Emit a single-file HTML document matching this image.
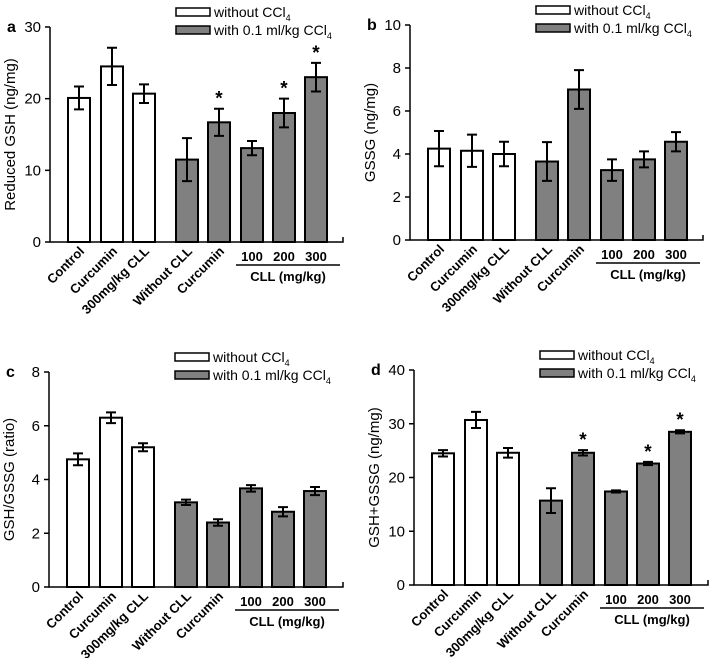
<!DOCTYPE html>
<html><head><meta charset="utf-8"><style>
body{margin:0;background:#fff;width:710px;height:658px;overflow:hidden}
svg{display:block;font-family:"Liberation Sans",sans-serif}
</style></head><body>
<svg id="fig" width="710" height="658" viewBox="0 0 710 658"></svg>
<script>
const categories=["Control","Curcumin","300mg/kg CLL","Without CLL","Curcumin","100","200","300"];
const aValues=[20.1,24.5,20.7,11.5,16.7,13.1,18,23];
const aErrors=[1.6,2.6,1.3,3,1.9,1,2,2];
const bValues=[4.25,4.15,4.0,3.65,7.0,3.25,3.75,4.57];
const bErrors=[0.82,0.75,0.57,0.9,0.9,0.5,0.37,0.45];
const cValues=[4.75,6.3,5.2,3.15,2.4,3.67,2.8,3.57];
const cErrors=[0.22,0.2,0.15,0.1,0.12,0.12,0.17,0.15];
const dValues=[24.5,30.7,24.6,15.7,24.6,17.4,22.6,28.5];
const dErrors=[0.6,1.5,0.9,2.3,0.5,0.2,0.3,0.3];
const aTicks=[0,10,20,30];
const bTicks=[0,2,4,6,8,10];
const cTicks=[0,2,4,6,8];
const dTicks=[0,10,20,30,40];
const aStars=[4,6,7];
const dStars=[4,6,7];
const NS="http://www.w3.org/2000/svg";
const svg=document.getElementById('fig');
const offs=[29,62,94,137,169,202,234,266];
function mk(tag,at,parent,txt){const e=document.createElementNS(NS,tag);for(const k in at)e.setAttribute(k,at[k]);if(txt!==undefined)e.textContent=txt;(parent||svg).appendChild(e);return e;}
function panel(id,ax,y0,ytop,xend,vals,errs,ticks,ylabel,stars){
  const g=mk('g',{});
  
  
  const max=ticks[ticks.length-1];
  const Y=v=>y0-(v/max)*(y0-ytop);
  const X=i=>ax+offs[i];
  vals.forEach((v,i)=>{
    const r=mk('rect',{x:X(i)-11,y:Y(v),width:22,height:y0-Y(v),fill:i<3?'#fff':'#808080',stroke:'#000','stroke-width':2},g);
    
    
    const e=errs[i],t=Y(v+e),b=Y(v-e);
    const eb=mk('path',{d:`M${X(i)},${t}V${b}M${X(i)-5},${t}H${X(i)+5}M${X(i)-5},${b}H${X(i)+5}`,stroke:'#000','stroke-width':2,fill:'none'},g);
    
    
  });
  (stars||[]).forEach(i=>{
    const s=mk('text',{x:X(i),y:Y(vals[i]+errs[i])-4,'text-anchor':'middle','font-size':19,'font-weight':'bold'},g,'*');
    
    
  });
  const axl=mk('path',{d:`M${ax},${ytop}V${y0}H${xend}V${y0-5}`,stroke:'#000','stroke-width':1.5,fill:'none'},g);
  
  
  ticks.forEach(t=>{
    mk('line',{x1:ax-5,x2:ax,y1:Y(t),y2:Y(t),stroke:'#000','stroke-width':1.5},g);
    const tl=mk('text',{x:ax-9,y:Y(t)+5,'text-anchor':'end','font-size':15},g,t);
    
    
  });
  const yl=mk('text',{transform:`translate(${ax-35},${(y0+ytop)/2}) rotate(-90)`,'text-anchor':'middle','font-size':15},g,ylabel);
  
  
  const pl=mk('text',{x:ax-43,y:ytop+5,'font-size':16,'font-weight':'bold'},g,id);
  
  
  categories.forEach((c,i)=>{
    let t;
    if(i<5){t=mk('text',{transform:`translate(${X(i)+6},${y0+10}) rotate(-45)`,'text-anchor':'end','font-size':13,'font-weight':'bold'},g,c);}
    else{t=mk('text',{x:X(i),y:y0+19,'text-anchor':'middle','font-size':13,'font-weight':'bold'},g,c);}
    
    
  });
  mk('line',{x1:ax+186,x2:ax+290,y1:y0+23,y2:y0+23,stroke:'#000','stroke-width':1.5},g);
  const cl=mk('text',{x:ax+238,y:y0+39,'text-anchor':'middle','font-size':13,'font-weight':'bold'},g,'CLL (mg/kg)');
  
  
  const lg=mk('g',{},g);
  
  
  mk('rect',{x:ax+126,y:ytop-19,width:34,height:8,fill:'#fff',stroke:'#000','stroke-width':1.5},lg);
  mk('rect',{x:ax+126,y:ytop-1,width:34,height:8,fill:'#808080',stroke:'#000','stroke-width':1.5},lg);
  const t1=mk('text',{x:ax+164,y:ytop-10,'font-size':14},lg);t1.innerHTML='without CCl<tspan font-size="9" dy="4">4</tspan>';
  const t2=mk('text',{x:ax+164,y:ytop+8,'font-size':14},lg);t2.innerHTML='with 0.1 ml/kg CCl<tspan font-size="9" dy="4">4</tspan>';
}
panel('a',50,242,27,343,aValues,aErrors,aTicks,'Reduced GSH (ng/mg)',aStars);
panel('b',410,240,25,703,bValues,bErrors,bTicks,'GSSG (ng/mg)');
panel('c',49,587,372,343,cValues,cErrors,cTicks,'GSH/GSSG (ratio)');
panel('d',414,585,370,708,dValues,dErrors,dTicks,'GSH+GSSG (ng/mg)',dStars);
</script>
</body></html>
